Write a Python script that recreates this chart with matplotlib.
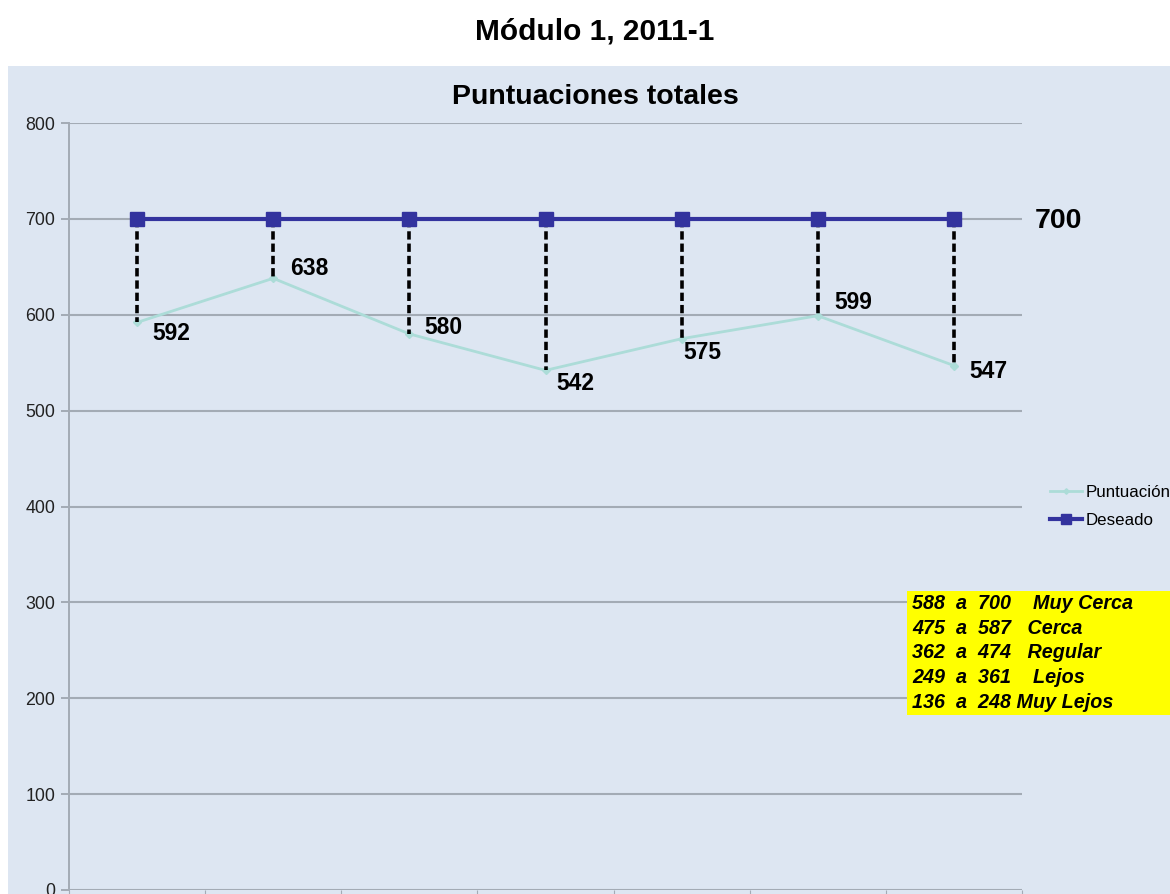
import matplotlib.pyplot as plt
from matplotlib.patches import Rectangle

plt.rcParams['font.family'] = ['Liberation Sans', 'DejaVu Sans']

# data
categorias = ["1", "2", "3", "4", "5", "6", "7"]
puntuacion = [592, 638, 580, 542, 575, 599, 547]
deseado = [700, 700, 700, 700, 700, 700, 700]
rangos = [
    "588  a  700    Muy Cerca",
    "475  a  587   Cerca",
    "362  a  474   Regular",
    "249  a  361    Lejos",
    "136  a  248 Muy Lejos",
]
# label offsets (pixels) for the data labels
offsets = [(15, -11), (17, 10), (15, 6), (11, -13), (2, -14), (17, 13), (15, -6)]

W, H = 1170, 894
fig = plt.figure(figsize=(W / 100, H / 100), dpi=100)
fig.patch.set_facecolor("white")

bg = "#dde6f2"
fig.patches.append(Rectangle((8 / W, 0), 1 - 8 / W, 1 - 66 / H,
                             transform=fig.transFigure, facecolor=bg,
                             edgecolor="none", zorder=-5))

fig.text(595 / W, 1 - 32 / H, "Módulo 1, 2011-1", ha="center", va="center",
         fontsize=21.5, fontweight="bold")
fig.text(595 / W, 1 - 97 / H, "Puntuaciones totales", ha="center", va="center",
         fontsize=20.5, fontweight="bold")

ax = fig.add_axes([69 / W, 1 - 890 / H, (1022 - 69) / W, (890 - 123) / H])
ax.set_facecolor(bg)

x = list(range(len(categorias)))

ax.set_ylim(0, 800)
ax.set_xlim(-0.5, len(categorias) - 0.5)
ax.set_yticks(range(0, 801, 100))
ax.yaxis.grid(True, color="#a3abb5", linewidth=1.5)
ax.set_axisbelow(True)
ax.set_xticks([i - 0.5 for i in range(len(categorias) + 1)])
ax.set_xticklabels([])
ax.tick_params(axis="y", labelsize=12.8, labelcolor="#222222", color="#a3abb5",
               length=6, width=1.4, pad=4)
ax.tick_params(axis="x", color="#a3abb5", length=5, direction="out")
for s in ["top", "right", "bottom"]:
    ax.spines[s].set_visible(False)
ax.spines["left"].set_color("#a3abb5")
ax.spines["left"].set_linewidth(1.4)

# dashed gaps
for xi, p, d in zip(x, puntuacion, deseado):
    ax.plot([xi, xi], [d, p], color="black", linestyle=(0, (2.3, 1.1)),
            linewidth=2.6, zorder=3)

ax.plot(x, puntuacion, color="#acdcd8", linewidth=2, marker="D",
        markersize=4, label="Puntuación", zorder=2)
ax.plot(x, deseado, color="#33339e", linewidth=3, marker="s",
        markersize=10, label="Deseado", zorder=4)

for xi, p, (dx, dy) in zip(x, puntuacion, offsets):
    ax.annotate(str(p), (xi, p), xytext=(dx, dy), textcoords="offset pixels",
                ha="left", va="center", fontsize=16.5, fontweight="bold")

fig.text(1035 / W, 1 - 221 / H, str(deseado[-1]), ha="left", va="center",
         fontsize=20.5, fontweight="bold")

ax.legend(loc="upper left", bbox_to_anchor=(1050 / W, 1 - 485 / H),
          bbox_transform=fig.transFigure, frameon=False, fontsize=12.2,
          handlelength=1.9, handletextpad=0.2, labelspacing=0.75,
          borderaxespad=0, borderpad=0, markerscale=0.7)

fig.patches.append(Rectangle((907 / W, 1 - 715 / H), 1 - 907 / W, (715 - 591) / H,
                             transform=fig.transFigure, facecolor="#ffff00",
                             edgecolor="none", zorder=5))
fig.text(912 / W, 1 - 653 / H, "\n".join(rangos), ha="left", va="center",
         fontsize=14.2, fontweight="bold", fontstyle="italic",
         linespacing=1.38, zorder=6)

fig.savefig("out.png", dpi=100)
